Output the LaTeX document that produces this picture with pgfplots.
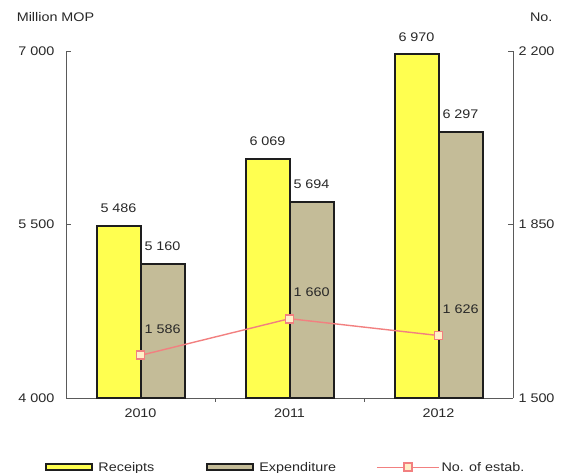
\documentclass[border=0pt]{standalone}
\usepackage{pgfplots}
\pgfplotsset{compat=1.18}
\usepackage{fontspec}
\setmainfont{Liberation Sans}[FakeStretch=1.15]
\definecolor{rec}{RGB}{255,255,80}
\definecolor{expc}{RGB}{196,188,152}
\definecolor{edge}{RGB}{30,30,30}
\definecolor{estab}{RGB}{242,128,128}
\definecolor{mfill}{RGB}{255,240,200}
\definecolor{txt}{RGB}{40,40,40}
\definecolor{axc}{RGB}{90,90,90}
\pgfplotsset{lineleg/.style={legend image code/.code={\draw[estab, line width=1.4pt] (0pt,0pt) -- (62pt,0pt); \draw[estab, fill=mfill, line width=1.8pt] (27pt,-4pt) rectangle (35pt,4pt);}},
  barleg/.style={legend image code/.code={\draw[##1] (0pt,-3pt) rectangle (46pt,3pt);}}}
\begin{document}
\begin{tikzpicture}[font=\fontsize{12.5}{14}\selectfont]
\useasboundingbox (0,0) rectangle (568pt,473pt);
\begin{axis}[
  at={(66pt,75pt)}, anchor=south west,
  width=447pt, height=347pt, scale only axis,
  xmin=-0.5, xmax=2.5, ymin=4000, ymax=7000,
  axis x line*=bottom, axis y line*=left,
  axis line style={draw=axc, line width=0.8pt},
  tick align=inside,
  xtick={0,1,2}, xticklabels={2010,2011,2012},
  minor xtick={0.5,1.5},
  major x tick style={draw=none},
  minor x tick style={draw=axc, line width=0.8pt},
  minor tick length=4pt,
  ytick={4000,5500,7000},
  ytick style={draw=axc, line width=0.8pt},
  major tick length=5pt,
  yticklabel style={xshift=-8pt, text=txt},
  xticklabel style={yshift=-2pt, text=txt},
  /pgf/number format/1000 sep={\ },
  /pgf/number format/assume math mode=true,
  ybar=0pt, bar width=44pt,
  clip=false,
  legend columns=3,
  legend cell align=left,
  legend style={draw=none, fill=none, at={(0.492,-0.2)}, anchor=center, text=txt},
]
\addplot[fill=rec, draw=edge, line width=2pt, barleg,
  nodes near coords, nodes near coords style={yshift=9pt, text=txt}] coordinates {(0,5486) (1,6069) (2,6970)};
\addlegendentry{\hspace*{3pt}Receipts\hspace*{50pt}}
\addplot[fill=expc, draw=edge, line width=2pt, barleg,
  nodes near coords, nodes near coords style={yshift=9pt, text=txt}] coordinates {(0,5160) (1,5694) (2,6297)};
\addlegendentry{\hspace*{3pt}Expenditure\hspace*{38pt}}
\addlegendimage{lineleg}
\addlegendentry{No. of estab.}
\node[anchor=west, text=txt] at (axis description cs:-0.118,1.098) {Million MOP};
\node[anchor=east, text=txt] at (axis description cs:1.096,1.098) {No.};
\end{axis}
\begin{axis}[
  at={(66pt,75pt)}, anchor=south west,
  width=447pt, height=347pt, scale only axis,
  xmin=-0.5, xmax=2.5, ymin=1500, ymax=2200,
  axis y line*=right, axis x line=none,
  axis line style={draw=axc, line width=0.8pt},
  tick align=inside,
  ytick={1500,1850,2200},
  ytick style={draw=axc, line width=0.8pt},
  major tick length=5pt,
  yticklabel style={xshift=2pt, text=txt},
  /pgf/number format/1000 sep={\ },
  /pgf/number format/assume math mode=true,
  clip=false,
]
\addplot[estab, line width=1.4pt, mark=square*, mark size=4pt,
  mark options={fill=mfill, draw=estab, line width=1.8pt},
  nodes near coords,
  nodes near coords style={anchor=south west, yshift=18pt, xshift=0pt, text=txt},
] coordinates {(0,1586) (1,1660) (2,1626)};
\end{axis}
\end{tikzpicture}
\end{document}
